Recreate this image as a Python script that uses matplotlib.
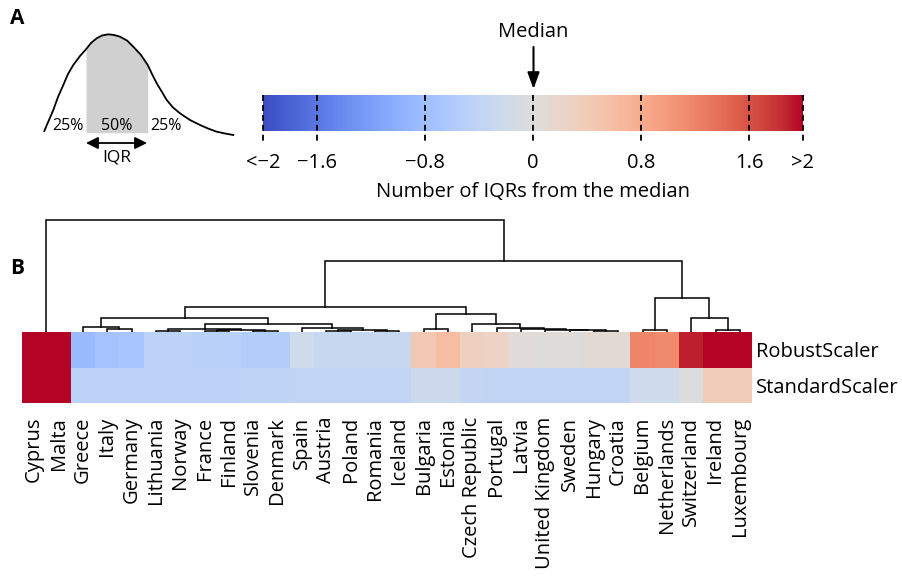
import numpy as np
import matplotlib
matplotlib.use("Agg")
import matplotlib.pyplot as plt
import matplotlib.transforms as mtransforms
from matplotlib.colors import Normalize
from matplotlib.cm import ScalarMappable

plt.rcParams['font.family'] = ['Open Sans', 'DejaVu Sans']

# ---- data ----
countries = ['Cyprus', 'Malta', 'Greece', 'Italy', 'Germany', 'Lithuania', 'Norway',
             'France', 'Finland', 'Slovenia', 'Denmark', 'Spain', 'Austria', 'Poland',
             'Romania', 'Iceland', 'Bulgaria', 'Estonia', 'Czech Republic', 'Portugal',
             'Latvia', 'United Kingdom', 'Sweden', 'Hungary', 'Croatia', 'Belgium',
             'Netherlands', 'Switzerland', 'Ireland', 'Luxembourg']
scalers = ['RobustScaler', 'StandardScaler']

robust = [2.0, 2.0, -0.85, -0.75, -0.7, -0.45, -0.45, -0.5, -0.5, -0.55, -0.55,
          -0.2, -0.3, -0.3, -0.3, -0.3, 0.45, 0.6, 0.3, 0.25, 0.05, 0.02, 0.02,
          0.1, 0.1, 1.2, 1.15, 1.9, 2.0, 2.0]
standard = [2.0, 2.0, -0.45, -0.45, -0.45, -0.45, -0.45, -0.45, -0.45, -0.42, -0.42,
            -0.38, -0.38, -0.38, -0.38, -0.38, -0.25, -0.25, -0.35, -0.38, -0.38,
            -0.38, -0.38, -0.38, -0.38, -0.2, -0.2, -0.02, 0.35, 0.35]

# dendrogram merges, linkage style: (left id, right id, height); new ids start at 30
links = [
    (0, 1, 0.0),     # 30
    (3, 4, 3.0),     # 31
    (2, 31, 5.3),    # 32
    (5, 6, 0.8),     # 33
    (7, 8, 0.8),     # 34
    (9, 10, 1.0),    # 35
    (34, 35, 1.6),   # 36
    (33, 36, 3.3),   # 37
    (12, 13, 1.0),   # 38
    (14, 15, 0.8),   # 39
    (38, 39, 2.0),   # 40
    (11, 40, 4.5),   # 41
    (37, 41, 7.7),   # 42
    (32, 42, 14.0),  # 43
    (16, 17, 3.3),   # 44
    (23, 24, 1.2),   # 45
    (22, 45, 1.7),   # 46
    (21, 46, 2.5),   # 47
    (20, 47, 3.3),   # 48
    (19, 48, 4.3),   # 49
    (18, 49, 8.3),   # 50
    (44, 50, 18.0),  # 51
    (43, 51, 24.7),  # 52
    (25, 26, 2.0),   # 53
    (28, 29, 2.0),   # 54
    (27, 54, 13.7),  # 55
    (53, 55, 34.3),  # 56
    (52, 56, 71.0),  # 57
    (30, 57, 111.7), # 58
]

cbar_ticks = [-2, -1.6, -0.8, 0, 0.8, 1.6, 2]
cbar_labels = ['<\u22122', '\u22121.6', '\u22120.8', '0', '0.8', '1.6', '>2']

# schematic skewed density (pixel coords)
curve_x = [44.3, 49, 53.3, 58, 63.3, 68, 73.3, 80, 86, 91, 96.7, 102, 108.3, 114, 120,
           127, 133.3, 141, 147.7, 152, 156.7, 162, 166.7, 173, 180, 190, 200, 208,
           216.7, 225, 233.3]
curve_y = [131, 120, 110, 97, 85, 74, 65, 56, 49.3, 43, 38.3, 35.5, 34.3, 35, 36.7,
           40.5, 46.7, 55, 65, 74, 83.3, 92, 100, 107.5, 113.3, 120, 125, 128.5,
           131.7, 133.5, 135]
iqr_lo, iqr_hi, base_y = 86, 147.7, 132.7

W, H = 903, 580
fig = plt.figure(figsize=(W / 100, H / 100), dpi=100)


def px_axes(x0, y0, x1, y1):
    return fig.add_axes([x0 / W, 1 - y1 / H, (x1 - x0) / W, (y1 - y0) / H])


FS = 14.5

# ---- panel A overlay (pixel coordinates) ----
ov = px_axes(0, 0, W, H)
ov.set_xlim(0, W)
ov.set_ylim(H, 0)
ov.axis('off')

cx = np.array(curve_x)
cy = np.array(curve_y)
m = (cx >= iqr_lo) & (cx <= iqr_hi)
ov.fill_between(cx[m], cy[m], base_y, color='#d0d0d0', lw=0)
ov.plot(cx, cy, color='k', lw=1.3)
ov.text(68, 126, '25%', ha='center', va='center', fontsize=11.5)
ov.text(116.7, 126, '50%', ha='center', va='center', fontsize=11.5)
ov.text(165.7, 126, '25%', ha='center', va='center', fontsize=11.5)
ov.annotate('', xy=(86, 143), xytext=(147, 143),
            arrowprops=dict(arrowstyle='<|-|>', color='k', lw=1.3,
                            mutation_scale=18, shrinkA=0, shrinkB=0))
ov.text(116.5, 158, 'IQR', ha='center', va='center', fontsize=12.5)

ov.text(10, 18, 'A', ha='left', va='center', fontsize=15, fontweight='bold')
ov.text(10, 268, 'B', ha='left', va='center', fontsize=15, fontweight='bold')

ov.text(533.5, 32, 'Median', ha='center', va='center', fontsize=FS)
ov.annotate('', xy=(533.5, 89), xytext=(533.5, 47),
            arrowprops=dict(arrowstyle='-|>,head_width=0.2,head_length=0.55',
                            color='k', lw=1.5, mutation_scale=18,
                            shrinkA=0, shrinkB=0))

# ---- colour bar ----
norm = Normalize(vmin=-2, vmax=2)
cax = px_axes(263, 95, 803, 131)
cb = fig.colorbar(ScalarMappable(norm=norm, cmap='coolwarm'), cax=cax,
                  orientation='horizontal')
cb.outline.set_visible(False)
cax.set_xticks([])
trans = mtransforms.blended_transform_factory(cax.transData, cax.transAxes)
for t, lab in zip(cbar_ticks, cbar_labels):
    cax.plot([t, t], [1.0, -0.31], transform=trans, color='k', lw=1.3,
             dashes=(3.3, 2.2), clip_on=False)
    cax.text(t, -0.9, lab, transform=trans, ha='center', va='center', fontsize=FS)
cax.text(0.5, -1.7, 'Number of IQRs from the median', transform=cax.transAxes,
         ha='center', va='center', fontsize=FS)

# ---- panel B heatmap ----
n = len(countries)
hx0, hx1, hy0, hy1 = 22, 752, 332, 403
ax_h = px_axes(hx0, hy0, hx1, hy1)
vals = np.array([robust, standard])
ax_h.pcolormesh(vals, cmap='coolwarm', norm=norm)
ax_h.set_xlim(0, n)
ax_h.set_ylim(2, 0)
ax_h.set_xticks(np.arange(n) + 0.5)
ax_h.set_xticklabels(countries, rotation=90, fontsize=FS)
ax_h.yaxis.tick_right()
ax_h.set_yticks([0.5, 1.5])
ax_h.set_yticklabels(scalers, fontsize=FS)
ax_h.tick_params(axis='x', length=0, pad=10)
ax_h.tick_params(axis='y', length=0, pad=3)
for s in ax_h.spines.values():
    s.set_visible(False)

# ---- dendrogram ----
ax_d = px_axes(hx0, 215, hx1, hy0)
ax_d.set_xlim(0, n)
ax_d.set_ylim(0, 117)
ax_d.axis('off')
pos = {i: i + 0.5 for i in range(n)}
hgt = {i: 0.0 for i in range(n)}
for k, (a, b, h) in enumerate(links):
    xa, xb = pos[a], pos[b]
    if h > 0:
        ax_d.plot([xa, xa, xb, xb], [hgt[a], h, h, hgt[b]], color='k', lw=1.1,
                  solid_joinstyle='miter')
    pos[n + k] = (xa + xb) / 2
    hgt[n + k] = h

fig.savefig('out.png', dpi=100)
